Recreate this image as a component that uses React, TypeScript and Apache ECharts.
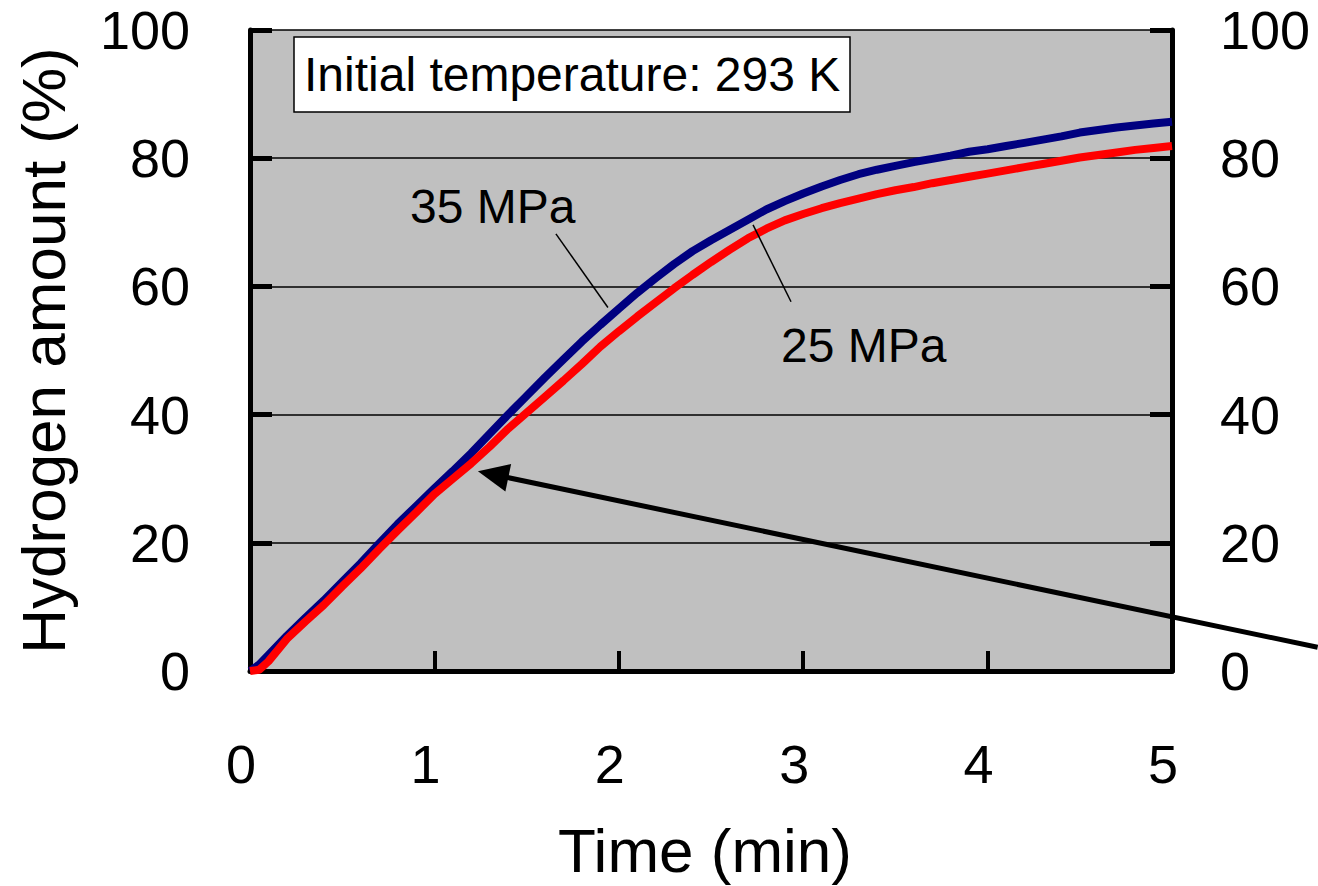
import React, { useEffect, useRef } from "react";
import * as echarts from "echarts";

// Time (min)
const times = [
  0, 0.05, 0.1, 0.2, 0.3, 0.4, 0.5, 0.6, 0.7, 0.8, 0.9, 1.0, 1.1, 1.2, 1.3, 1.4, 1.5, 1.6, 1.7, 1.8, 1.9,
  2.0, 2.1, 2.2, 2.3, 2.4, 2.5, 2.6, 2.7, 2.8, 2.9, 3.0, 3.1, 3.2, 3.3, 3.4, 3.5, 3.6, 3.7, 3.8, 3.9,
  4.0, 4.1, 4.2, 4.3, 4.4, 4.5, 4.6, 4.7, 4.8, 4.9, 5.0,
];

// Hydrogen amount (%) at 35 MPa
const h2At35MPa = [
  0, 1.0, 2.5, 5.5, 8.3, 11.0, 13.9, 16.8, 19.9, 22.9, 25.7, 28.5, 31.2, 34.0, 37.0, 40.0, 42.9, 45.8, 48.6, 51.4, 54.0,
  56.5, 59.0, 61.3, 63.5, 65.5, 67.2, 68.8, 70.4, 72.0, 73.3, 74.5, 75.6, 76.6, 77.5, 78.2, 78.8, 79.4, 79.9, 80.4, 81.0,
  81.4, 81.9, 82.4, 82.9, 83.4, 84.0, 84.4, 84.8, 85.1, 85.4, 85.7,
];

// Hydrogen amount (%) at 25 MPa
const h2At25MPa = [
  0, 0.2, 1.5, 5.0, 7.7, 10.3, 13.2, 16.0, 19.0, 21.9, 24.7, 27.6, 30.0, 32.4, 35.0, 37.8, 40.3, 42.8, 45.3, 47.9, 50.6,
  53.0, 55.3, 57.5, 59.7, 61.8, 63.8, 65.7, 67.5, 69.0, 70.3, 71.3, 72.2, 73.0, 73.7, 74.4, 75.0, 75.5, 76.1, 76.6, 77.1,
  77.6, 78.1, 78.6, 79.1, 79.6, 80.1, 80.5, 80.9, 81.3, 81.6, 81.9,
];

const seriesNames = ["35 MPa", "25 MPa"];
const xTicks = [0, 1, 2, 3, 4, 5];
const yTicks = [0, 20, 40, 60, 80, 100];
const boxText = "Initial temperature: 293 K";

// annotation anchors in data units [time, percent]
const label35Anchor = [0.868, 72.4];
const leader35 = [[1.659, 68.2], [1.941, 56.7]];
const label25Anchor = [2.88, 50.8];
const leader25 = [[2.728, 69.6], [2.934, 57.6]];
const arrowTail = [5.79, 3.7];
const arrowTip = [1.236, 31.15];

const FONT = "'Liberation Sans', Arial, sans-serif";

export default function App() {
  const ref = useRef<HTMLDivElement>(null);

  useEffect(() => {
    if (!ref.current) return;
    const chart = echarts.init(ref.current, null, { renderer: "svg" });

    const zip = (vals: number[]) => times.map((t, i) => [t, vals[i]]);

    const yAxisBase = {
      type: "value",
      min: yTicks[0],
      max: yTicks[yTicks.length - 1],
      interval: yTicks[1] - yTicks[0],
      axisLine: { show: true, onZero: false, lineStyle: { color: "#000", width: 5 } },
      axisTick: { show: true, inside: true, length: 22, lineStyle: { color: "#000", width: 5 } },
    };

    chart.setOption({
      animation: false,
      backgroundColor: "#fff",
      title: {
        text: boxText,
        left: 294,
        top: 37,
        padding: [9, 10, 9, 10],
        backgroundColor: "#fff",
        borderColor: "#000",
        borderWidth: 1.5,
        textStyle: { fontFamily: FONT, fontSize: 48, fontWeight: "normal", color: "#000", lineHeight: 57 },
      },
      grid: {
        left: 250,
        right: 146,
        top: 30,
        bottom: 214,
        show: true,
        backgroundColor: "#c0c0c0",
        borderWidth: 0,
      },
      xAxis: {
        type: "value",
        min: xTicks[0],
        max: xTicks[xTicks.length - 1],
        interval: 1,
        name: "Time (min)",
        nameLocation: "middle",
        nameGap: 148,
        nameTextStyle: { fontFamily: FONT, fontSize: 62, color: "#000", padding: [0, 12, 0, 0] },
        axisLine: { show: true, onZero: false, lineStyle: { color: "#000", width: 5 } },
        axisTick: { show: true, inside: true, length: 20, lineStyle: { color: "#000", width: 4 } },
        axisLabel: { fontFamily: FONT, fontSize: 54, color: "#000", margin: 66, padding: [0, 18, 0, 0] },
        splitLine: { show: false },
      },
      yAxis: [
        {
          ...yAxisBase,
          position: "left",
          name: "Hydrogen amount (%)",
          nameLocation: "middle",
          nameGap: 176,
          nameTextStyle: { fontFamily: FONT, fontSize: 62, color: "#000" },
          axisLabel: { fontFamily: FONT, fontSize: 54, color: "#000", margin: 60 },
          splitLine: { show: true, lineStyle: { color: "#000", width: 1.5 } },
        },
        {
          ...yAxisBase,
          position: "right",
          axisLabel: { fontFamily: FONT, fontSize: 54, color: "#000", margin: 48 },
          splitLine: { show: false },
        },
      ],
      series: [
        {
          name: seriesNames[0],
          type: "line",
          yAxisIndex: 0,
          data: zip(h2At35MPa),
          showSymbol: false,
          lineStyle: { color: "#000080", width: 8 },
          z: 3,
        },
        {
          name: seriesNames[1],
          type: "line",
          yAxisIndex: 0,
          data: zip(h2At25MPa),
          showSymbol: false,
          lineStyle: { color: "#ff0000", width: 8 },
          z: 4,
        },
      ],
    });

    const px = (p: number[]) => chart.convertToPixel({ xAxisIndex: 0, yAxisIndex: 0 }, p) as number[];

    const tail = px(arrowTail);
    const tip = px(arrowTip);
    const dx = tip[0] - tail[0];
    const dy = tip[1] - tail[1];
    const len = Math.hypot(dx, dy);
    const ux = dx / len;
    const uy = dy / len;
    const headLen = 31;
    const headHalf = 14;
    const base = [tip[0] - ux * headLen, tip[1] - uy * headLen];
    const nx = -uy;
    const ny = ux;

    const l35a = px(leader35[0]);
    const l35b = px(leader35[1]);
    const l25a = px(leader25[0]);
    const l25b = px(leader25[1]);
    const t35 = px(label35Anchor);
    const t25 = px(label25Anchor);

    chart.setOption({
      graphic: [
        {
          type: "line",
          shape: { x1: l35a[0], y1: l35a[1], x2: l35b[0], y2: l35b[1] },
          style: { stroke: "#000", lineWidth: 1.5 },
          z: 10,
        },
        {
          type: "line",
          shape: { x1: l25a[0], y1: l25a[1], x2: l25b[0], y2: l25b[1] },
          style: { stroke: "#000", lineWidth: 1.5 },
          z: 10,
        },
        {
          type: "text",
          x: t35[0],
          y: t35[1],
          style: {
            text: seriesNames[0],
            font: `48px ${FONT}`,
            fill: "#000",
            textAlign: "left",
            textVerticalAlign: "middle",
          },
          z: 10,
        },
        {
          type: "text",
          x: t25[0],
          y: t25[1],
          style: {
            text: seriesNames[1],
            font: `48px ${FONT}`,
            fill: "#000",
            textAlign: "left",
            textVerticalAlign: "middle",
          },
          z: 10,
        },
        {
          type: "line",
          shape: { x1: tail[0], y1: tail[1], x2: base[0] + ux * 2, y2: base[1] + uy * 2 },
          style: { stroke: "#000", lineWidth: 5 },
          z: 10,
        },
        {
          type: "polygon",
          shape: {
            points: [
              [tip[0], tip[1]],
              [base[0] + nx * headHalf, base[1] + ny * headHalf],
              [base[0] - nx * headHalf, base[1] - ny * headHalf],
            ],
          },
          style: { fill: "#000" },
          z: 10,
        },
      ],
    });

    return () => chart.dispose();
  }, []);

  return (
    <div
      ref={ref}
      style={{ position: "fixed", left: 0, top: 0, width: 1318, height: 886, background: "#fff" }}
    />
  );
}
